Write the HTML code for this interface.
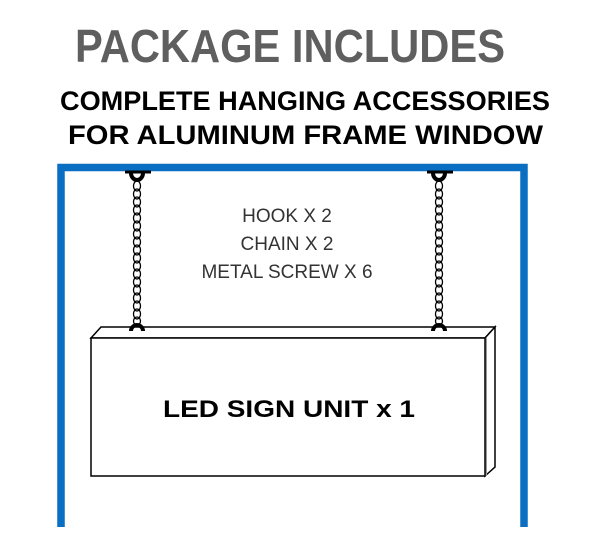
<!DOCTYPE html>
<html><head><style>html,body{margin:0;padding:0;background:#fff;}svg{display:block}</style></head>
<body>
<svg width="605" height="547" viewBox="0 0 605 547" xmlns="http://www.w3.org/2000/svg" font-family="Liberation Sans, sans-serif">
<text x="75" y="62" font-size="46" font-weight="bold" fill="#5f5f5f" textLength="430" lengthAdjust="spacingAndGlyphs">PACKAGE INCLUDES</text>
<text x="60" y="110" font-size="27" font-weight="bold" fill="#000" textLength="490" lengthAdjust="spacingAndGlyphs">COMPLETE HANGING ACCESSORIES</text>
<text x="68" y="144" font-size="27" font-weight="bold" fill="#000" textLength="475" lengthAdjust="spacingAndGlyphs">FOR ALUMINUM FRAME WINDOW</text>
<!-- frame -->
<path d="M61 527 V167.5 H524 V527" fill="none" stroke="#0a6fc2" stroke-width="7.5"/>
<!-- labels -->
<g font-size="19" fill="#333" text-anchor="middle">
<text x="287" y="222">HOOK X 2</text>
<text x="287" y="250">CHAIN X 2</text>
<text x="287" y="278">METAL SCREW X 6</text>
</g>
<!-- sign box -->
<polygon points="91,338 101,327 495,327 485,338" fill="#fff" stroke="#000" stroke-width="1.5"/>
<polygon points="485,338 495,327 495,467 485,476" fill="#fff" stroke="#000" stroke-width="1.5"/>
<line x1="486" y1="338" x2="486" y2="476" stroke="#999" stroke-width="2"/>
<rect x="91" y="338" width="394" height="138" fill="#fff" stroke="#000" stroke-width="1.5"/>
<text x="289" y="417" font-size="24" font-weight="bold" text-anchor="middle" textLength="252" lengthAdjust="spacingAndGlyphs">LED SIGN UNIT x 1</text>
<!-- chains -->
<g id="c1" fill="none" stroke="#000" stroke-width="1.3">
<path d="M125 172 H151" stroke-width="3"/>
<path d="M131 173 A6 7 0 0 0 143 173" stroke-width="4"/>
<g>
<ellipse cx="137" cy="186" rx="3.5" ry="5"/><ellipse cx="137" cy="194" rx="3.5" ry="5"/><ellipse cx="137" cy="202" rx="3.5" ry="5"/><ellipse cx="137" cy="210" rx="3.5" ry="5"/><ellipse cx="137" cy="218" rx="3.5" ry="5"/><ellipse cx="137" cy="226" rx="3.5" ry="5"/><ellipse cx="137" cy="234" rx="3.5" ry="5"/><ellipse cx="137" cy="242" rx="3.5" ry="5"/><ellipse cx="137" cy="250" rx="3.5" ry="5"/><ellipse cx="137" cy="258" rx="3.5" ry="5"/><ellipse cx="137" cy="266" rx="3.5" ry="5"/><ellipse cx="137" cy="274" rx="3.5" ry="5"/><ellipse cx="137" cy="282" rx="3.5" ry="5"/><ellipse cx="137" cy="290" rx="3.5" ry="5"/><ellipse cx="137" cy="298" rx="3.5" ry="5"/><ellipse cx="137" cy="306" rx="3.5" ry="5"/><ellipse cx="137" cy="314" rx="3.5" ry="5"/><ellipse cx="137" cy="321" rx="3.5" ry="4"/>
</g>
<path d="M131 331 A6 6 0 0 1 143 331" stroke-width="4"/>
</g>
<use href="#c1" transform="translate(302,0)"/>
</svg>
</body></html>
